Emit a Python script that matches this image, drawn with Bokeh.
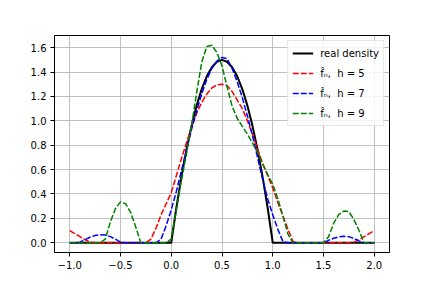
from bokeh.plotting import figure
from bokeh.models import Legend, LegendItem, FixedTicker, CustomJSTickFormatter, Range1d
from bokeh.embed import file_html
from bokeh.resources import INLINE

x = [-1.00, -0.95, -0.90, -0.85, -0.80, -0.75, -0.70, -0.65, -0.60, -0.55,
     -0.50, -0.45, -0.40, -0.35, -0.30, -0.25, -0.20, -0.15, -0.10, -0.05,
     0.00, 0.05, 0.10, 0.15, 0.20, 0.25, 0.30, 0.35, 0.40, 0.45,
     0.50, 0.55, 0.60, 0.65, 0.70, 0.75, 0.80, 0.85, 0.90, 0.95,
     1.00, 1.05, 1.10, 1.15, 1.20, 1.25, 1.30, 1.35, 1.40, 1.45,
     1.50, 1.55, 1.60, 1.65, 1.70, 1.75, 1.80, 1.85, 1.90, 1.95, 2.00]

real_density = [0, 0, 0, 0, 0, 0, 0, 0, 0, 0,
                0, 0, 0, 0, 0, 0, 0, 0, 0, 0,
                0.0, 0.285, 0.54, 0.765, 0.96, 1.125, 1.26, 1.365, 1.44, 1.485,
                1.5, 1.485, 1.44, 1.365, 1.26, 1.125, 0.96, 0.765, 0.54, 0.285,
                0.0, 0, 0, 0, 0, 0, 0, 0, 0, 0,
                0, 0, 0, 0, 0, 0, 0, 0, 0, 0, 0]

f_h5 = [0.10, 0.075, 0.05, 0.025, 0.005, 0, 0, 0, 0, 0,
        0, 0, 0, 0, 0, 0, 0.03, 0.12, 0.23, 0.32,
        0.41, 0.55, 0.69, 0.82, 0.95, 1.06, 1.15, 1.22, 1.27, 1.295,
        1.30, 1.29, 1.24, 1.17, 1.10, 1.00, 0.89, 0.77, 0.65, 0.55,
        0.45, 0.33, 0.22, 0.11, 0.01, 0, 0, 0, 0, 0,
        0, 0, 0, 0, 0, 0, 0.005, 0.025, 0.05, 0.075, 0.10]

f_h7 = [0, 0, 0.005, 0.025, 0.045, 0.06, 0.066, 0.064, 0.05, 0.03,
        0.005, 0, 0, 0, 0, 0, 0, 0, 0.03, 0.14,
        0.27, 0.42, 0.59, 0.76, 0.93, 1.08, 1.22, 1.34, 1.43, 1.49,
        1.52, 1.51, 1.43, 1.32, 1.19, 1.04, 0.88, 0.70, 0.52, 0.36,
        0.23, 0.11, 0.01, 0, 0, 0, 0, 0, 0, 0,
        0, 0.02, 0.037, 0.048, 0.053, 0.05, 0.035, 0.015, 0, 0, 0]

f_h9 = [0, 0, 0, 0, 0, 0, 0, 0.03, 0.17, 0.28,
        0.335, 0.32, 0.25, 0.13, 0, 0, 0, 0, 0, 0,
        0.03, 0.27, 0.51, 0.73, 0.96, 1.23, 1.48, 1.61, 1.62, 1.56,
        1.45, 1.28, 1.12, 1.02, 0.955, 0.89, 0.82, 0.74, 0.65, 0.56,
        0.48, 0.36, 0.22, 0.07, 0, 0, 0, 0, 0, 0,
        0, 0.05, 0.16, 0.23, 0.26, 0.255, 0.19, 0.10, 0, 0, 0]

x_ticks = [-1.0, -0.5, 0.0, 0.5, 1.0, 1.5, 2.0]
y_ticks = [0.0, 0.2, 0.4, 0.6, 0.8, 1.0, 1.2, 1.4, 1.6]

labels = ["real density", "f\u0302\u2099,  h = 5", "f\u0302\u2099,  h = 7", "f\u0302\u2099,  h = 9"]
colors = ["black", "#ff0000", "#0000ff", "#008000"]

p = figure(width=424, height=280, output_backend="svg", toolbar_location=None,
           x_range=Range1d(-1.15, 2.15), y_range=Range1d(-0.08, 1.70),
           min_border_left=54, min_border_right=35, min_border_top=35,
           min_border_bottom=28)

p.outline_line_color = "black"
p.outline_line_width = 1
p.background_fill_color = "white"

r0 = p.line(x, real_density, color=colors[0], line_width=2)
r1 = p.line(x, f_h5, color=colors[1], line_width=1.5, line_dash="6 2")
r2 = p.line(x, f_h7, color=colors[2], line_width=1.5, line_dash="6 2")
r3 = p.line(x, f_h9, color=colors[3], line_width=1.5, line_dash="6 2")

fmt = CustomJSTickFormatter(code="return tick.toFixed(1).replace('-', '\\u2212');")

for ax, ticks in ((p.xaxis[0], x_ticks), (p.yaxis[0], y_ticks)):
    ax.ticker = FixedTicker(ticks=ticks, minor_ticks=[])
    ax.formatter = fmt
    ax.major_label_text_font = "DejaVu Sans"
    ax.major_label_text_font_size = "10px"
    ax.major_label_text_color = "black"
    ax.axis_line_color = "black"
    ax.major_tick_line_color = "black"
    ax.major_tick_out = 4
    ax.major_tick_in = 0
    ax.minor_tick_line_color = None
    ax.major_label_standoff = 4

p.xgrid.grid_line_color = "#b0b0b0"
p.ygrid.grid_line_color = "#b0b0b0"
p.xgrid.grid_line_width = 0.8
p.ygrid.grid_line_width = 0.8

legend = Legend(items=[LegendItem(label=labels[0], renderers=[r0]),
                       LegendItem(label=labels[1], renderers=[r1]),
                       LegendItem(label=labels[2], renderers=[r2]),
                       LegendItem(label=labels[3], renderers=[r3])],
                location="top_right")
legend.label_text_font = "DejaVu Sans"
legend.label_text_font_size = "10px"
legend.label_text_color = "black"
legend.glyph_width = 21
legend.glyph_height = 16
legend.label_height = 16
legend.label_standoff = 7
legend.spacing = 4
legend.padding = 4
legend.margin = 5
legend.border_line_color = "#cccccc"
legend.background_fill_alpha = 0.8
p.add_layout(legend)

open("out.html", "w").write(file_html(p, INLINE))
